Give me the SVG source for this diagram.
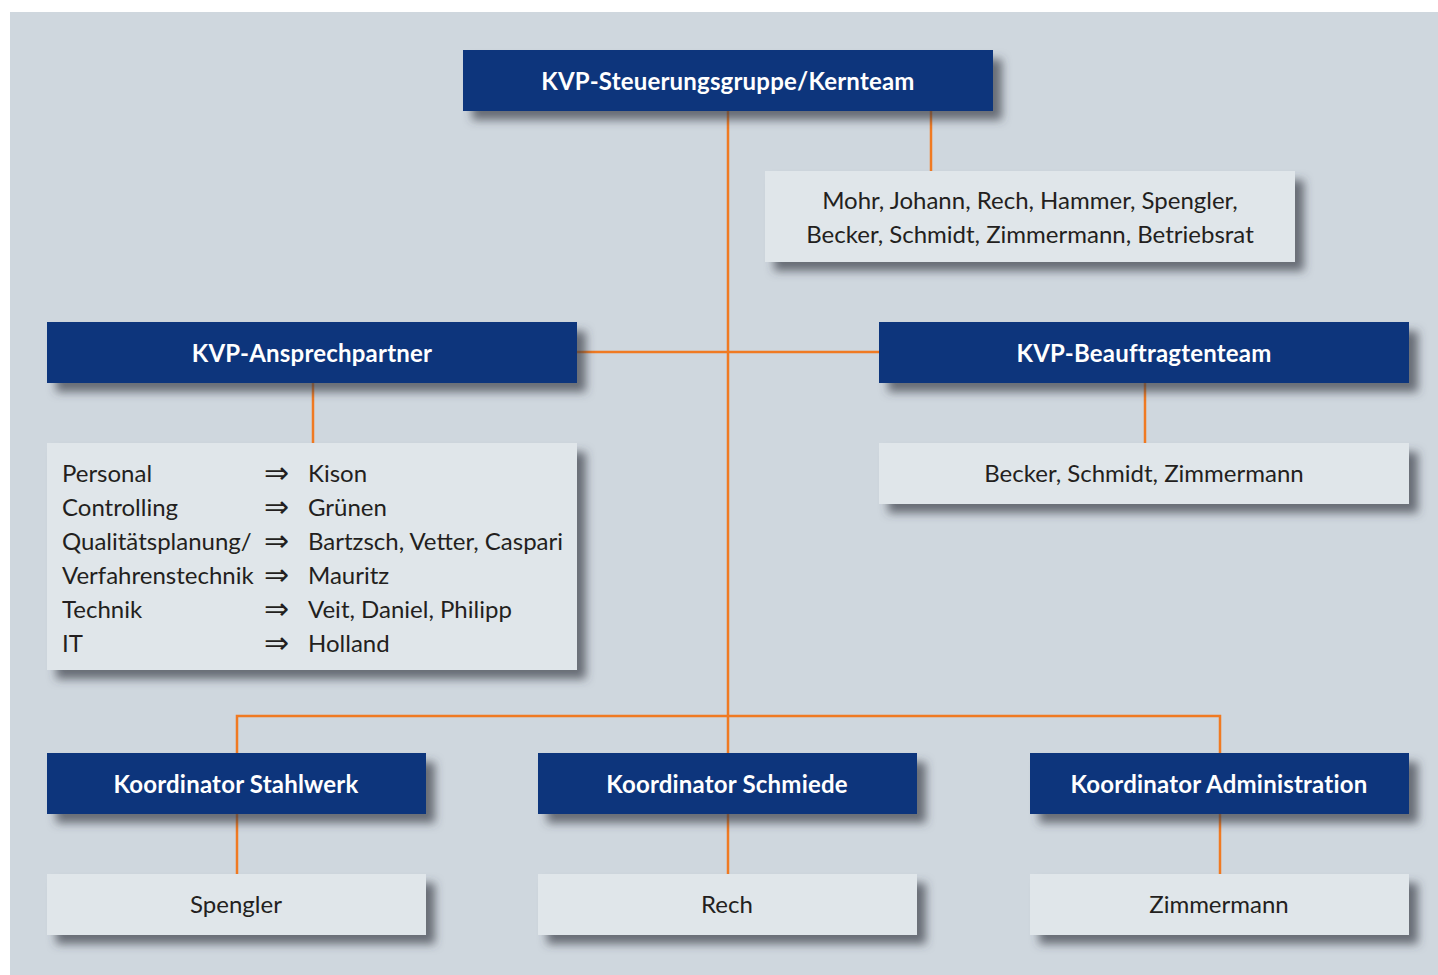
<svg xmlns="http://www.w3.org/2000/svg" width="1438" height="975" viewBox="0 0 1438 975">
<defs>
<filter id="sh" x="-10%" y="-30%" width="130%" height="180%">
<feDropShadow dx="9" dy="9" stdDeviation="5" flood-color="#3a4048" flood-opacity="0.7"/>
</filter>
<style>
.dark{fill:#0a347b;filter:url(#sh)}
.light{fill:#e0e6ea;filter:url(#sh)}
.tw{font-family:Lato,"Liberation Sans",sans-serif;font-size:24px;font-weight:bold;letter-spacing:0.2px;fill:#ffffff;text-anchor:middle}
.tb{font-family:Lato,"Liberation Sans",sans-serif;font-size:24px;fill:#231f20;text-anchor:middle}
.tl{font-family:Lato,"Liberation Sans",sans-serif;font-size:24px;fill:#231f20}
.ar{font-family:"DejaVu Sans",sans-serif;font-size:30px;fill:#231f20}
.c{stroke:#f07a22;stroke-width:2.5;fill:none}
</style>
</defs>
<rect x="0" y="0" width="1438" height="975" fill="#ffffff"/>
<rect x="10" y="12" width="1428" height="963" fill="#cfd7de"/>
<g id="connectors">
<line class="c" x1="728" y1="111" x2="728" y2="753"/>
<line class="c" x1="931" y1="111" x2="931" y2="171"/>
<line class="c" x1="577" y1="352" x2="879" y2="352"/>
<line class="c" x1="313" y1="383" x2="313" y2="443"/>
<line class="c" x1="1145" y1="383" x2="1145" y2="443"/>
<polyline class="c" points="237,753 237,716 1220,716 1220,753"/>
<line class="c" x1="237" y1="814" x2="237" y2="874"/>
<line class="c" x1="728" y1="814" x2="728" y2="874"/>
<line class="c" x1="1220" y1="814" x2="1220" y2="874"/>
</g>
<g id="kernteam"><rect class="dark" x="463" y="50" width="530" height="61"/><text class="tw" x="728" y="90">KVP-Steuerungsgruppe/Kernteam</text></g>
<g id="kernteam-members"><rect class="light" x="765" y="171" width="530" height="91"/><text class="tb" x="1030" y="209">Mohr, Johann, Rech, Hammer, Spengler,</text><text class="tb" x="1030" y="243">Becker, Schmidt, Zimmermann, Betriebsrat</text></g>
<g id="ansprechpartner"><rect class="dark" x="47" y="322" width="530" height="61"/><text class="tw" x="312" y="362">KVP-Ansprechpartner</text></g>
<g id="beauftragtenteam"><rect class="dark" x="879" y="322" width="530" height="61"/><text class="tw" x="1144" y="362">KVP-Beauftragtenteam</text></g>
<g id="ansprechpartner-list"><rect class="light" x="47" y="443" width="530" height="227"/>
<text class="tl" x="62" y="482">Personal</text><text class="ar" x="264" y="483">⇒</text><text class="tl" x="308" y="482">Kison</text>
<text class="tl" x="62" y="516">Controlling</text><text class="ar" x="264" y="517">⇒</text><text class="tl" x="308" y="516">Grünen</text>
<text class="tl" x="62" y="550">Qualitätsplanung/</text><text class="ar" x="264" y="551">⇒</text><text class="tl" x="308" y="550">Bartzsch, Vetter, Caspari</text>
<text class="tl" x="62" y="584">Verfahrenstechnik</text><text class="ar" x="264" y="585">⇒</text><text class="tl" x="308" y="584">Mauritz</text>
<text class="tl" x="62" y="618">Technik</text><text class="ar" x="264" y="619">⇒</text><text class="tl" x="308" y="618">Veit, Daniel, Philipp</text>
<text class="tl" x="62" y="652">IT</text><text class="ar" x="264" y="653">⇒</text><text class="tl" x="308" y="652">Holland</text>
</g>
<g id="beauftragtenteam-members"><rect class="light" x="879" y="443" width="530" height="61"/><text class="tb" x="1144" y="482">Becker, Schmidt, Zimmermann</text></g>
<g id="koord-stahlwerk"><rect class="dark" x="47" y="753" width="379" height="61"/><text class="tw" x="236" y="793">Koordinator Stahlwerk</text></g>
<g id="koord-schmiede"><rect class="dark" x="538" y="753" width="379" height="61"/><text class="tw" x="727" y="793">Koordinator Schmiede</text></g>
<g id="koord-admin"><rect class="dark" x="1030" y="753" width="379" height="61"/><text class="tw" x="1219" y="793">Koordinator Administration</text></g>
<g id="spengler"><rect class="light" x="47" y="874" width="379" height="61"/><text class="tb" x="236" y="913">Spengler</text></g>
<g id="rech"><rect class="light" x="538" y="874" width="379" height="61"/><text class="tb" x="727" y="913">Rech</text></g>
<g id="zimmermann"><rect class="light" x="1030" y="874" width="379" height="61"/><text class="tb" x="1219" y="913">Zimmermann</text></g>
</svg>
